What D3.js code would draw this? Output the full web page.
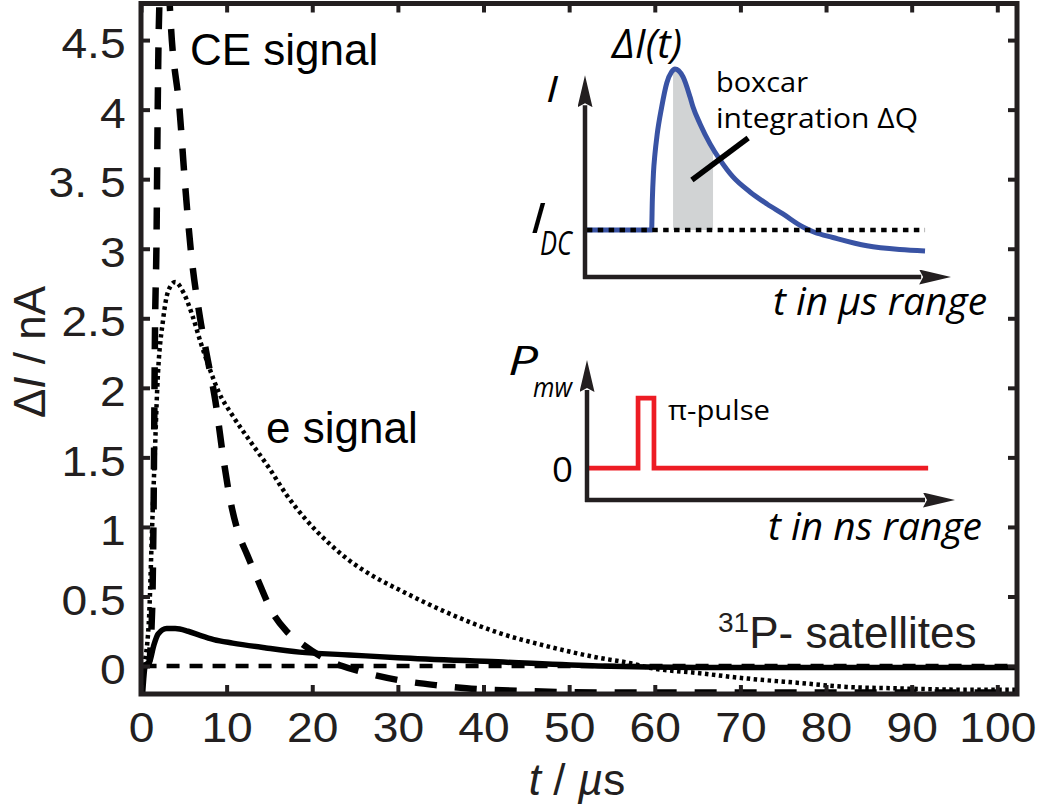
<!DOCTYPE html>
<html><head><meta charset="utf-8">
<script src="https://cdn.jsdelivr.net/npm/d3@7"></script>
<style>body{margin:0;background:#fff}svg{display:block}</style>
</head><body>
<svg id="chart" width="1045" height="810"></svg>
<script>
// ---------------- data ----------------
const xTicks = [0,10,20,30,40,50,60,70,80,90,100];
const xTickLabels = ["0","10","20","30","40","50","60","70","80","90","100"];
const yTicks = [0,0.5,1,1.5,2,2.5,3,3.5,4,4.5];
const yTickLabels = ["0","0.5","1","1.5","2","2.5","3","3. 5","4","4.5"];

// CE signal (dashed)
const ceTime   = [0.3, 0.9, 1.3, 1.45, 1.65, 1.8, 1.95, 2.05, 2.3, 2.7, 3.15, 3.6, 4.5, 5.1, 5.8, 6.9, 7.8, 8.7, 9.6, 10.4, 11.3, 12.4, 13.5, 15.4, 17, 18.8, 21, 23.5, 26.3, 30, 34.8, 38, 45, 55, 70, 85, 102.3];
const ceSignal = [0, 0.02, 0.4, 1.0, 2.5, 3.0, 4.0, 4.5, 4.95, 5.15, 4.95, 4.5, 4.0, 3.5, 3.0, 2.5, 2.2, 1.9, 1.5, 1.2, 0.97, 0.8, 0.64, 0.38, 0.25, 0.16, 0.07, 0.0, -0.05, -0.1, -0.14, -0.16, -0.18, -0.19, -0.19, -0.19, -0.19];

// e signal (dotted)
const eTime   = [0.3, 0.9, 1.3, 1.6, 1.9, 2.6, 3.2, 4.0, 5.0, 6.0, 7.0, 8.0, 9.0, 10.7, 12.7, 15.0, 17.0, 19.3, 22.0, 24.3, 27.0, 30.1, 35.9, 41.7, 47.6, 53.4, 57.2, 59.2, 65, 70.8, 76.6, 82.4, 88, 96, 102.3];
const eSignal = [0, 0.3, 1.0, 1.5, 2.0, 2.5, 2.7, 2.76, 2.68, 2.52, 2.32, 2.14, 1.98, 1.80, 1.62, 1.42, 1.23, 1.05, 0.88, 0.76, 0.65, 0.55, 0.38, 0.24, 0.14, 0.06, 0.02, -0.01, -0.05, -0.09, -0.12, -0.15, -0.16, -0.17, -0.17];

// 31P satellites (solid)
const satTime   = [0.2, 0.5, 1.0, 1.5, 2.0, 3.0, 4.0, 5.5, 6.9, 8.5, 10.7, 14.6, 18.5, 24.3, 30, 41.7, 53.4, 65, 80, 102.3];
const satSignal = [-0.19, 0, 0.03, 0.15, 0.23, 0.27, 0.27, 0.25, 0.22, 0.19, 0.165, 0.13, 0.10, 0.08, 0.06, 0.03, 0.0, -0.01, -0.01, -0.01];

// zero reference (short dashes)
const zeroTime  = [0.3, 102.3];
const zeroLevel = [0, 0];

// inset 1: current transient (schematic units)
const transTime    = [0.05, 1.80, 1.82, 1.85, 1.89, 1.95, 2.07, 2.21, 2.34, 2.43, 2.65, 2.84, 2.92, 3.11, 3.38, 3.65, 4.0, 4.46, 4.92, 5.35, 5.89, 6.2, 6.70, 7.62, 8.51, 9.19];
const transCurrent = [0.226, 0.226, 0.37, 0.50, 0.59, 0.685, 0.815, 0.933, 0.986, 1.0, 0.962, 0.865, 0.817, 0.736, 0.64, 0.563, 0.481, 0.409, 0.351, 0.303, 0.240, 0.215, 0.190, 0.150, 0.132, 0.125];
const idcTime  = [0.05, 9.19];
const idcLevel = [0.226, 0.226];
const boxcarWindow = [2.38, 3.46];
const leaderTime  = [2.89, 4.41];
const leaderLevel = [0.466, 0.668];

// inset 2: microwave pulse (schematic units)
const mwTime  = [0.03, 1.38, 1.38, 1.81, 1.81, 9.22];
const mwPower = [0.225, 0.225, 0.718, 0.718, 0.225, 0.225];

// ---------------- drawing ----------------
const svg = d3.select("#chart");
const ink = "#231f20";
const mainFont = "'Liberation Sans', Arial, Helvetica, sans-serif";
const insetFont = "'Open Sans', 'Noto Sans', sans-serif";

const x = d3.scaleLinear().domain([0, 102.3]).range([141, 1017]);
const y = d3.scaleLinear().domain([-0.201, 4.763]).range([694, 3.5]);

const defs = svg.append("defs");
defs.append("clipPath").attr("id","plotClip")
  .append("rect").attr("x", x(0)).attr("y", y(4.763)).attr("width", x(102.3)-x(0)).attr("height", y(-0.201)-y(4.763));

const line = d3.line().x(d=>x(d[0])).y(d=>y(d[1])).curve(d3.curveMonotoneX);
const plot = svg.append("g").attr("clip-path","url(#plotClip)");

plot.append("path").datum(d3.zip(zeroTime, zeroLevel)).attr("d", line)
  .attr("fill","none").attr("stroke","#000").attr("stroke-width",4.5).attr("stroke-dasharray","13,10");
plot.append("path").datum(d3.zip(satTime, satSignal)).attr("d", line)
  .attr("fill","none").attr("stroke","#000").attr("stroke-width",5.5).attr("stroke-linejoin","round");
plot.append("path").datum(d3.zip(eTime, eSignal)).attr("d", line)
  .attr("fill","none").attr("stroke","#000").attr("stroke-width",4.5).attr("stroke-dasharray","3.5,3.5");
plot.append("path").datum(d3.zip(ceTime, ceSignal)).attr("d", line)
  .attr("fill","none").attr("stroke","#000").attr("stroke-width",6.5).attr("stroke-dasharray","22,18");

// axes
function styleAxis(g){
  g.select(".domain").remove();
  g.selectAll(".tick line").attr("stroke", ink).attr("stroke-width", 4);
}
const gl = svg.append("g").attr("transform", `translate(${x(0)},0)`)
  .call(d3.axisLeft(y).tickValues(yTicks).tickFormat((d,i)=>yTickLabels[i]).tickSize(-9).tickPadding(14));
styleAxis(gl);
gl.selectAll("text").attr("font-family", mainFont).attr("font-size", 42).attr("fill", ink)
  .attr("dy","0.42em").attr("transform","scale(1.1,1)");

const gb = svg.append("g").attr("transform", `translate(0,${y(-0.201)})`)
  .call(d3.axisBottom(x).tickValues(xTicks).tickFormat((d,i)=>xTickLabels[i]).tickSize(-9).tickPadding(18));
styleAxis(gb);
gb.selectAll("text").attr("font-family", mainFont).attr("font-size", 42).attr("fill", ink)
  .attr("transform","scale(1.1,1)");

const gt = svg.append("g").attr("transform", `translate(0,${y(4.763)})`)
  .call(d3.axisTop(x).tickValues(xTicks).tickFormat("").tickSize(-9));
styleAxis(gt);
const gr = svg.append("g").attr("transform", `translate(${x(102.3)},0)`)
  .call(d3.axisRight(y).tickValues(yTicks).tickFormat("").tickSize(-9));
styleAxis(gr);

svg.append("rect").attr("x", x(0)).attr("y", y(4.763)).attr("width", x(102.3)-x(0)).attr("height", y(-0.201)-y(4.763))
  .attr("fill","none").attr("stroke", ink).attr("stroke-width", 5);

// axis titles
const xt = svg.append("text").attr("x", 577).attr("y", 795).attr("text-anchor","middle")
  .attr("font-family", mainFont).attr("font-size", 44).attr("fill", ink);
xt.append("tspan").attr("font-style","italic").text("t");
xt.append("tspan").text(" / ");
xt.append("tspan").attr("font-style","italic").text("µ");
xt.append("tspan").text("s");

const yt = svg.append("text").attr("transform","translate(45,352) rotate(-90)").attr("text-anchor","middle")
  .attr("font-family", mainFont).attr("font-size", 44).attr("fill", ink);
yt.append("tspan").text("Δ");
yt.append("tspan").attr("font-style","italic").text("I");
yt.append("tspan").text(" / nA");

// curve labels
svg.append("text").attr("x", 190).attr("y", 65).attr("font-family", mainFont).attr("font-size", 44).attr("fill","#000").text("CE signal");
svg.append("text").attr("x", 266).attr("y", 443).attr("font-family", mainFont).attr("font-size", 44).attr("fill","#000").text("e signal");
const sat = svg.append("text").attr("x", 718).attr("y", 648).attr("font-family", mainFont).attr("font-size", 44).attr("fill", ink);
sat.append("tspan").attr("font-size", 28).attr("dy", -16).text("31");
sat.append("tspan").attr("dy", 16).text("P- satellites");

// ---------------- inset 1 ----------------
defs.append("marker").attr("id","arrow").attr("viewBox","0 0 32 15").attr("refX",2).attr("refY",7.5)
  .attr("markerWidth",32).attr("markerHeight",15).attr("markerUnits","userSpaceOnUse").attr("orient","auto")
  .append("path").attr("d","M0,0 L32,7.5 L0,15 L4,7.5 Z").attr("fill", ink);

const ix = d3.scaleLinear().domain([0,10]).range([585, 955]);
const iy = d3.scaleLinear().domain([0,1]).range([277, 69]);

defs.append("clipPath").attr("id","boxClip").append("rect")
  .attr("x", ix(boxcarWindow[0])).attr("y", iy(1.05)).attr("width", ix(boxcarWindow[1])-ix(boxcarWindow[0])).attr("height", iy(0)-iy(1.05));

const iLine = d3.line().x(d=>ix(d[0])).y(d=>iy(d[1])).curve(d3.curveMonotoneX);
const iArea = d3.area().x(d=>ix(d[0])).y0(iy(idcLevel[0])).y1(d=>iy(d[1])).curve(d3.curveMonotoneX);
const trans = d3.zip(transTime, transCurrent);
svg.append("path").datum(trans).attr("d", iArea).attr("fill","#d1d3d4").attr("clip-path","url(#boxClip)");
svg.append("path").datum(trans).attr("d", iLine).attr("fill","none").attr("stroke","#3953a4").attr("stroke-width",5);
svg.append("path").datum(d3.zip(idcTime, idcLevel)).attr("d", d3.line().x(d=>ix(d[0])).y(d=>iy(d[1])))
  .attr("stroke","#000").attr("stroke-width",4.5).attr("stroke-dasharray","5.5,5.4");
svg.append("path").datum(d3.zip(leaderTime, leaderLevel)).attr("d", d3.line().x(d=>ix(d[0])).y(d=>iy(d[1])))
  .attr("stroke","#000").attr("stroke-width",5.5);

// inset 1 axes
svg.append("line").attr("x1", ix(0)).attr("y1", iy(0)+2).attr("x2", ix(0)).attr("y2", iy(0.98)+32)
  .attr("stroke", ink).attr("stroke-width",4.5).attr("marker-end","url(#arrow)");
svg.append("line").attr("x1", ix(0)-2).attr("y1", iy(0)).attr("x2", ix(9.95)-32).attr("y2", iy(0))
  .attr("stroke", ink).attr("stroke-width",4.5).attr("marker-end","url(#arrow)");

function itext(xp, yp, size, len, italic){
  const t = svg.append("text").attr("x", xp).attr("y", yp).attr("font-family", insetFont)
    .attr("font-size", size).attr("fill","#000");
  if (italic) t.attr("font-style","italic");
  if (len) t.attr("textLength", len).attr("lengthAdjust","spacingAndGlyphs");
  return t;
}
itext(612, 58, 40, 70, true).text("ΔI(t)");
itext(546, 102, 36, 12, true).text("I");
itext(716, 92, 28, 92, false).text("boxcar");
itext(716, 128, 28, 202, false).text("integration ΔQ");
itext(530, 233, 42, 15, true).text("I");
itext(540, 255, 32, 32, true).text("DC");
itext(773, 315, 38, 214, true).text("t in µs range");

// ---------------- inset 2 ----------------
const px2 = d3.scaleLinear().domain([0,10]).range([587, 957]);
const py2 = d3.scaleLinear().domain([0,1]).range([500, 358]);
svg.append("path").datum(d3.zip(mwTime, mwPower))
  .attr("d", d3.line().x(d=>px2(d[0])).y(d=>py2(d[1])))
  .attr("fill","none").attr("stroke","#ed1c24").attr("stroke-width",4.7);
svg.append("line").attr("x1", px2(0)).attr("y1", py2(0)+2).attr("x2", px2(0)).attr("y2", py2(1)+32)
  .attr("stroke", ink).attr("stroke-width",4.5).attr("marker-end","url(#arrow)");
svg.append("line").attr("x1", px2(0)-2).attr("y1", py2(0)).attr("x2", px2(10)-32).attr("y2", py2(0))
  .attr("stroke", ink).attr("stroke-width",4.5).attr("marker-end","url(#arrow)");

itext(508, 375, 40, 30, true).text("P");
itext(533, 397, 28, 39, true).text("mw");
itext(552, 482, 34, 21, false).text("0");
itext(668, 420, 28, 102, false).text("π-pulse");
itext(768, 540, 38, 214, true).text("t in ns range");
</script>
</body></html>
